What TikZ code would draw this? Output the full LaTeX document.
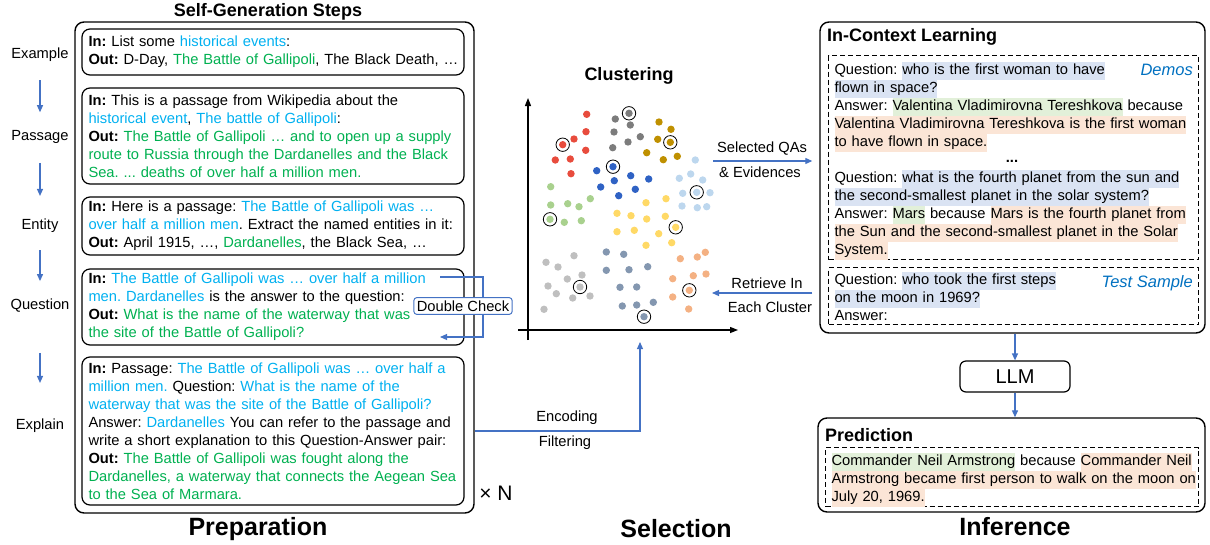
\documentclass[tikz,border=0pt]{standalone}
\usepackage{fontspec}
\setmainfont{Liberation Sans}
\usetikzlibrary{arrows.meta, positioning}
\definecolor{flowblue}{RGB}{68,114,196}
\definecolor{incyan}{RGB}{0,176,240}
\definecolor{outgreen}{RGB}{0,176,80}
\definecolor{tagblue}{RGB}{0,112,192}
\definecolor{qblue}{RGB}{218,227,243}
\definecolor{agreen}{RGB}{226,240,217}
\definecolor{eorange}{RGB}{251,229,214}
\definecolor{c1color}{RGB}{232,76,61}
\definecolor{c2color}{RGB}{124,124,124}
\definecolor{c3color}{RGB}{191,144,0}
\definecolor{c4color}{RGB}{47,98,196}
\definecolor{c5color}{RGB}{189,215,238}
\definecolor{c6color}{RGB}{169,209,142}
\definecolor{c7color}{RGB}{255,217,102}
\definecolor{c8color}{RGB}{191,191,191}
\definecolor{c9color}{RGB}{132,151,176}
\definecolor{c10color}{RGB}{244,177,131}
\newcommand{\bodyfont}{\fontsize{14.7}{18}\selectfont}
\newcommand{\incy}[1]{\textcolor{incyan}{#1}}
\newcommand{\outg}[1]{\textcolor{outgreen}{#1}}
\newcommand{\hlq}[1]{{\setlength{\fboxsep}{0pt}\colorbox{qblue}{\strut#1}}}
\newcommand{\hla}[1]{{\setlength{\fboxsep}{0pt}\colorbox{agreen}{\strut#1}}}
\newcommand{\hle}[1]{{\setlength{\fboxsep}{0pt}\colorbox{eorange}{\strut#1}}}

\begin{document}
\begin{tikzpicture}[x=1pt, y=-1pt, font=\bodyfont,
  outerbox/.style={draw, line width=1.4pt, rounded corners=9pt},
  stepbox/.style={draw, line width=1.2pt, rounded corners=8pt, text width=377pt, inner xsep=2.5pt, inner ysep=3pt, align=left,
    execute at begin node={\frenchspacing\leftskip=4pt}},
  dashbox/.style={draw, line width=1pt, dash pattern=on 5pt off 3pt, text width=364pt, inner xsep=3pt, inner ysep=2pt, align=left,
    execute at begin node={\frenchspacing\leftskip=3pt}},
  steplbl/.style={inner sep=0pt},
  title/.style={font=\bfseries\fontsize{18}{22}\selectfont},
  big/.style={font=\bfseries\fontsize{25}{30}\selectfont},
  tag/.style={font=\itshape\fontsize{16.5}{20}\selectfont, text=tagblue, inner sep=0pt},
  flow/.style={flowblue, line width=1.2pt, -{Triangle[length=7pt,width=6pt]}},
  axis/.style={line width=1.3pt, -{Triangle[length=8pt,width=6pt]}}]
\useasboundingbox (0,0) rectangle (1210,544);

% Preparation
\node[title] (prtitle) at (268,12) {Self-Generation Steps};
\node[outerbox, minimum width=399, minimum height=491] (prep) at (274.5,267.5) {};
\node[stepbox, minimum height=46] (ex) at (273,52) {\textbf{In:} List some \incy{historical events}:\\
\mbox{\textbf{Out:} D-Day, \outg{The Battle of Gallipoli}, The Black Death, …}};
\node[stepbox, minimum height=96] (pas) at (273,136) {\textbf{In:} This is a passage from Wikipedia about the\\
\incy{historical event}, \incy{The battle of Gallipoli}:\\
\textbf{Out:} \outg{The Battle of Gallipoli … and to open up a supply}\\
\outg{route to Russia through the Dardanelles and the Black}\\
\outg{Sea. ... deaths of over half a million men.}};
\node[stepbox, minimum height=58] (ent) at (273,226) {\textbf{In:} Here is a passage: \incy{The Battle of Gallipoli was …}\\
\incy{over half a million men}. Extract the named entities in it:\\
\textbf{Out:} April 1915, …, \outg{Dardanelles}, the Black Sea, …};
\node[stepbox, minimum height=76] (que) at (273,307) {\textbf{In:} \incy{The Battle of Gallipoli was … over half a million}\\
\incy{men. Dardanelles} is the answer to the question:\\
\textbf{Out:} \outg{What is the name of the waterway that was}\\
\outg{the site of the Battle of Gallipoli?}};
\node[stepbox, minimum height=148] (exp) at (273,431) {\textbf{In:} Passage: \incy{The Battle of Gallipoli was … over half a}\\
\incy{million men.} Question: \incy{What is the name of the}\\
\incy{waterway that was the site of the Battle of Gallipoli?}\\
Answer: \incy{Dardanelles} You can refer to the passage and\\
write a short explanation to this Question-Answer pair:\\
\textbf{Out:} \outg{The Battle of Gallipoli was fought along the}\\
\outg{Dardanelles, a waterway that connects the Aegean Sea}\\
\outg{to the Sea of Marmara.}};

\node[steplbl] (lex) at (40,55) {Example};
\node[steplbl] (lpas) at (40,137) {Passage};
\node[steplbl] (lent) at (40,226) {Entity};
\node[steplbl] (lque) at (40,306) {Question};
\node[steplbl] (lexp) at (40,426) {Explain};
\draw[flow, shorten <=18pt, shorten >=18pt] (lex) -- (lpas);
\draw[flow, shorten <=19pt, shorten >=23pt] (lpas) -- (lent);
\draw[flow, shorten <=17pt, shorten >=18pt] (lent) -- (lque);
\draw[flow, shorten <=40pt, shorten >=36pt] (lque) -- (lexp);

\coordinate (dcin) at (440,277);
\coordinate (dcout) at (440,337);
\draw[flow] (dcin) -- ++(43,0) |- (dcout);
\node[draw=flowblue, line width=1pt, rounded corners=3pt, fill=white, inner sep=3pt] (dchk) at (463,306) {Double Check};

\node[font=\fontsize{21}{24}\selectfont] (times) at (496,493) {× N};
\node[big] (prepl) at (258,529) {Preparation};

% Selection
\node[title] (cltitle) at (629,76) {Clustering};
\draw[axis] (528,340) -- (528,98);
\draw[axis] (518,330) -- (738,330);
\foreach \px/\py in {586.7/114.3, 586/131.7, 574/139, 562.7/144.7, 585.7/150.3, 555.3/160, 570.3/159, 571/173.7}
  \fill[c1color] (\px,\py) circle[radius=3.7pt];
\foreach \px/\py in {629/113.3, 615.3/119, 630.3/125, 614/132, 640.3/136.7, 628/142, 612.7/147.7}
  \fill[c2color] (\px,\py) circle[radius=3.7pt];
\foreach \px/\py in {659/122, 671/129.3, 657.7/139.3, 670.3/142.3, 646.7/152.7, 663.3/159.7, 677.3/156.3}
  \fill[c3color] (\px,\py) circle[radius=3.7pt];
\foreach \px/\py in {613/166.7, 596.7/170.7, 614.3/180.7, 630.7/175.7, 648.7/179, 600.7/187, 635.3/189.3, 618.7/195.7}
  \fill[c4color] (\px,\py) circle[radius=3.7pt];
\foreach \px/\py in {695.3/160, 679.3/178.3, 690.7/174, 702.7/180, 682.7/193.3, 696.7/192.3, 710/192.7, 682/206, 697.3/207.7, 706.7/206.7}
  \fill[c5color] (\px,\py) circle[radius=3.7pt];
\foreach \px/\py in {550.7/186.7, 550.7/205, 567.7/203.7, 579/206.7, 590.3/198.7, 550/219.3, 564.3/222.3, 581.3/220.7}
  \fill[c6color] (\px,\py) circle[radius=3.7pt];
\foreach \px/\py in {666/198.7, 646/202.7, 617/213.3, 631/215.7, 646.7/219, 665.3/216.3, 675.7/227.3, 617/231.7, 634.3/230.3, 658.7/233.7, 646/245.3, 671.7/242.7}
  \fill[c7color] (\px,\py) circle[radius=3.7pt];
\foreach \px/\py in {574/255.7, 546/262.3, 558/267, 582/275, 567.3/279, 580/287, 548/286, 556.3/293.7, 572.7/298, 590/296, 544/309.3}
  \fill[c8color] (\px,\py) circle[radius=3.7pt];
\foreach \px/\py in {606.3/252, 623.7/254.3, 606.3/270.3, 629/269.7, 647.7/266.7, 620/287.3, 636.7/287, 622.3/306, 636.7/305, 653.3/302.3, 644/316.7}
  \fill[c9color] (\px,\py) circle[radius=3.7pt];
\foreach \px/\py in {680.3/258.7, 697.3/257, 705.3/252.3, 693.3/275.7, 706/274, 672.7/278.7, 689.3/290.3, 672.7/297, 688.7/309}
  \fill[c10color] (\px,\py) circle[radius=3.7pt];
% picked samples
\foreach \px/\py in {562.7/144.7, 629/113.3, 670.3/142.3, 613/166.7, 696.7/192.3, 550/219.3, 675.7/227.3, 580/287, 644/316.7, 689.3/290.3}
  \draw[line width=0.8pt] (\px,\py) circle[radius=6.7pt];

\coordinate (enc) at (640,342);
\draw[flow] (exp.east -| prep.east) -| (enc);
\node (encl) at (567,418) {Encoding};
\node (filt) at (565,443) {Filtering};
\node[big] (sell) at (676,529) {Selection};

% Inference
\node[outerbox, minimum width=385, minimum height=311] (icl) at (1012.5,177.5) {};
\node[title, anchor=west, inner sep=0pt] (icltitle) at (827,37) {In-Context Learning};
\node[dashbox, minimum height=203, inner ysep=0pt, anchor=north west] (demos) at (828,55) {\rule{0pt}{18.6pt}Question: \hlq{who is the first woman to have}\\
\hlq{flown in space?}\\
Answer: \hla{Valentina Vladimirovna Tereshkova} because\\
\hle{Valentina Vladimirovna Tereshkova is the first woman}\\
\hle{to have flown in space.}\\
\strut\\
Question: \hlq{what is the fourth planet from the sun and}\\
\hlq{the second-smallest planet in the solar system?}\\
Answer: \hla{Mars} because \hle{Mars is the fourth planet from}\\
\hle{the Sun and the second-smallest planet in the Solar}\\
\hle{System.}};
\node[font=\bfseries\bodyfont, inner sep=0pt] (ddots) at (1012,161) {...};
\node[dashbox, minimum height=57, below=7pt of demos] (tsamp) {Question: \hlq{who took the first steps}\\
\hlq{on the moon in 1969?}\\
Answer:};
\node[tag, anchor=east] (demtag) at (1193,70) {Demos};
\node[tag, anchor=east] (testtag) at (1193,283) {Test Sample};

\coordinate (selq) at (713,161);
\draw[flow, shorten >=7pt] (selq) -- (selq -| icl.west);
\node (selt1) at (762,149) {Selected QAs};
\node (selt2) at (760,172) {\& Evidences};
\coordinate (retr) at (712,293);
\draw[flow, shorten <=7pt] (retr -| icl.west) -- (retr);
\node (rett1) at (767,283) {Retrieve In};
\node (rett2) at (770,307) {Each Cluster};

\node[draw, line width=1.2pt, rounded corners=6pt, minimum width=110, minimum height=31, font=\fontsize{20}{24}\selectfont] (llm) at (1015,376.5) {LLM};
\node[outerbox, minimum width=387, minimum height=94] (pred) at (1011.5,465) {};
\node[title, anchor=west, inner sep=0pt] (predtitle) at (825,435) {Prediction};
\node[dashbox, minimum height=57, text width=367pt, inner ysep=0pt, anchor=north west] (predtxt) at (825,447) {\rule{0pt}{18pt}\mbox{\hla{Commander Neil Armstrong} because \hle{Commander Neil}}\\
\mbox{\hle{Armstrong became first person to walk on the moon on}}\\
\hle{July 20, 1969.}};
\draw[flow] (icl.south -| llm.north) -- (llm.north);
\draw[flow] (llm.south) -- (llm.south |- pred.north);
\node[big] (infl) at (1015,527) {Inference};
\end{tikzpicture}
\end{document}
